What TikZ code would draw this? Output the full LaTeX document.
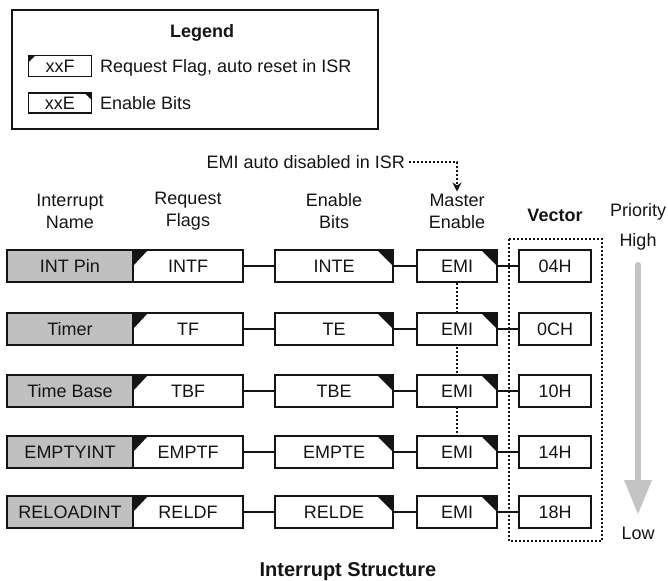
\documentclass[tikz,border=0pt]{standalone}
\usepackage{fontspec}
\setmainfont{Liberation Sans}
\usetikzlibrary{arrows.meta}
\pgfdeclarelayer{background}
\pgfsetlayers{background,main}
\definecolor{boxgray}{RGB}{192,192,192}
\definecolor{arrowgray}{RGB}{196,196,196}
\definecolor{ink}{RGB}{20,20,20}
\begin{document}
\begin{tikzpicture}[x=1pt,y=-1pt,
  font=\fontsize{18}{22}\selectfont, text=ink,
  box/.style={draw=ink, line width=1.5pt, minimum height=32pt, inner sep=0pt, text height=13pt, text depth=0pt},
  namebox/.style={box, fill=boxgray, minimum width=126pt},
  flagbox/.style={box, fill=white, minimum width=110pt,
    path picture={\fill[ink] (path picture bounding box.north west) -- ++(15pt,0pt) -- ++(-15pt,-16pt) -- cycle;}},
  enbox/.style={box, fill=white, minimum width=118pt,
    path picture={\fill[ink] (path picture bounding box.north east) -- ++(-16pt,0pt) -- ++(16pt,-16pt) -- cycle;}},
  emibox/.style={box, fill=white, minimum width=80pt,
    path picture={\fill[ink] (path picture bounding box.north east) -- ++(-16pt,0pt) -- ++(16pt,-16pt) -- cycle;}},
  vecbox/.style={box, fill=white, minimum width=72pt},
  lflag/.style={box, minimum width=63pt, minimum height=21pt,
    path picture={\fill[ink] (path picture bounding box.north west) -- ++(7pt,0pt) -- ++(-7pt,-7pt) -- cycle;}},
  len/.style={box, minimum width=63pt, minimum height=20pt,
    path picture={\fill[ink] (path picture bounding box.north east) -- ++(-7pt,0pt) -- ++(7pt,-7pt) -- cycle;}},
  conn/.style={draw=ink, line width=1.5pt},
  dotline/.style={draw=ink, line width=1.7pt, dash pattern=on 2pt off 2pt},
  hdr/.style={align=center, inner sep=0pt, font=\fontsize{18}{22}\selectfont},
  lbl/.style={inner sep=0pt, text height=13pt, text depth=0pt}
]
\useasboundingbox (0,0) rectangle (668,580);

% Legend
\draw[draw=ink, line width=1.5pt] (12,10) rectangle (378,129);
\node[lbl, font=\fontsize{18}{22}\selectfont\bfseries] (lgd) at (202,31) {Legend};
\node[lflag] (lf) at (60,66) {xxF};
\node[lbl, anchor=west] (lft) at (100,66) {Request Flag, auto reset in ISR};
\node[len] (le) at (60,103) {xxE};
\node[lbl, anchor=west] (let) at (100,103) {Enable Bits};

% Headers
\node[hdr] (hn) at (70,211) {Interrupt\\Name};
\node[hdr] (hf) at (188,211) {Request\\Flags};
\node[hdr] (he) at (334,211) {Enable\\Bits};
\node[hdr] (hm) at (457,211) {Master\\Enable};
\node[lbl, font=\fontsize{18}{22}\selectfont\bfseries] (hv) at (555,215) {Vector};
\node[lbl] (hp) at (638,210) {Priority};
\node[lbl] (hh) at (638,240) {High};
\node[lbl] (hl) at (638,533) {Low};

% EMI note
\node[lbl, anchor=east] (emit) at (405,162) {EMI auto disabled in ISR};
\coordinate (corner) at (457,162);
\draw[dotline, -{Stealth[length=9pt,width=9pt]}] (emit.east) ++(4,0) -- (corner) -- ([yshift=2pt]hm.north);

% Rows
\foreach \i/\yy/\nm/\fl/\en/\vv in {1/266/INT Pin/INTF/INTE/04H, 2/329/Timer/TF/TE/0CH, 3/391/Time Base/TBF/TBE/10H, 4/452/EMPTYINT/EMPTF/EMPTE/14H, 5/512/RELOADINT/RELDF/RELDE/18H}{
  \node[namebox] (n\i) at (70,\yy) {\nm};
  \node[flagbox] (f\i) at (188,\yy) {\fl};
  \node[enbox] (e\i) at (334,\yy) {\en};
  \node[emibox] (m\i) at (457,\yy) {EMI};
  \node[vecbox] (v\i) at (555,\yy) {\vv};
  \draw[conn] (f\i) -- (e\i);
  \draw[conn] (e\i) -- (m\i);
  \draw[conn] (m\i) -- (v\i);
}

% EMI chain (behind boxes)
\begin{pgfonlayer}{background}
\draw[dotline] (m1.south) -- (m4.north);
\end{pgfonlayer}

% Vector frame
\draw[dotline] (509,239) rectangle (602,541);

% Priority arrow
\draw[arrowgray, line width=6pt, line cap=round] (638,265) -- (638,483);
\fill[arrowgray] (624,480) -- (652,480) -- (638,514) -- cycle;

% Title
\node[lbl, font=\fontsize{20}{24}\selectfont\bfseries] (title) at (348,570) {Interrupt Structure};
\end{tikzpicture}
\end{document}
